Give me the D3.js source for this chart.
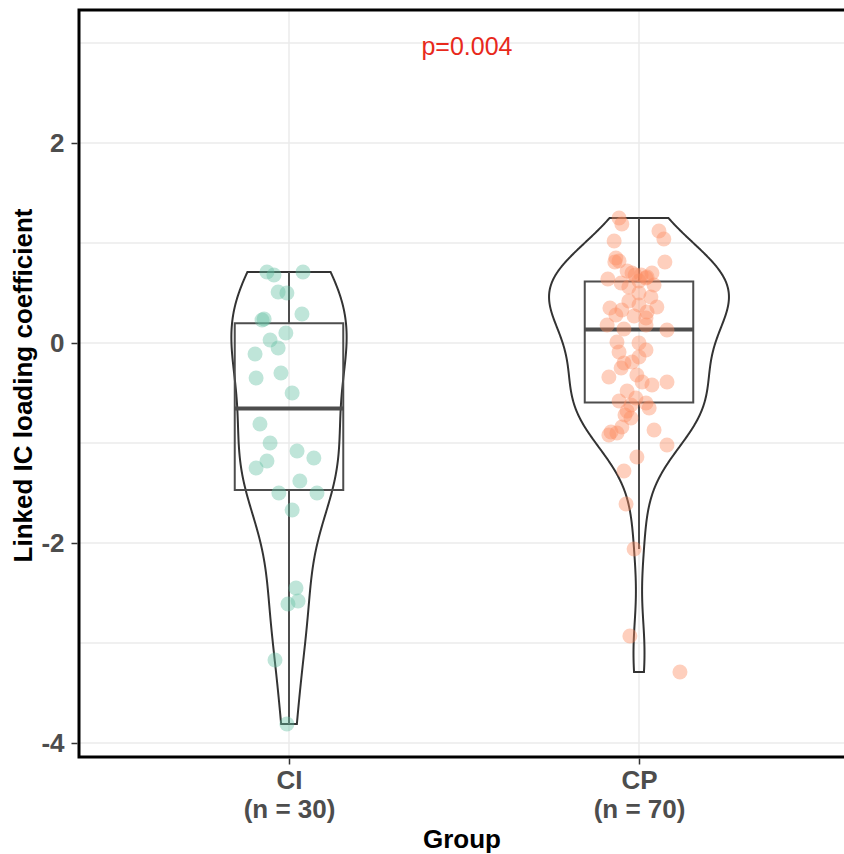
<!DOCTYPE html>
<html>
<head>
<meta charset="utf-8">
<script src="https://cdn.jsdelivr.net/npm/d3@7"></script>
<style>
  body { margin: 0; background: #fff; }
  text { font-family: 'Liberation Sans', Arial, sans-serif; }
</style>
</head>
<body>
<div id="container"></div>
<script>
const groups = ['CI', 'CP']
const groupCounts = [30, 70]
const groupColors = ['#66c2a5', '#fc8d62']

const ciValues = [0.71, 0.68, 0.71, 0.51, 0.50, 0.29, 0.24, 0.23, 0.10, 0.03,
  -0.05, -0.11, -0.30, -0.35, -0.50, -0.81, -1.00, -1.08, -1.15, -1.18,
  -1.25, -1.38, -1.50, -1.50, -1.67, -2.45, -2.58, -2.61, -3.17, -3.81]
const ciJitter = [-0.063, -0.043, 0.040, -0.031, -0.006, 0.037, -0.071, -0.077, -0.009, -0.054,
  -0.031, -0.097, -0.023, -0.094, 0.009, -0.083, -0.054, 0.023, 0.071, -0.063,
  -0.094, 0.031, -0.029, 0.080, 0.009, 0.020, 0.026, -0.003, -0.040, -0.006]

const cpValues = [1.25, 1.19, 1.12, 1.04, 1.02, 0.85, 0.81, 0.81, 0.70, 0.68,
  0.70, 0.65, 0.64, 0.60, 0.56, 0.50, 0.46, 0.36, 0.35, 0.33,
  0.31, 0.28, 0.25, 0.18, 0.14, 0.18, 0.13, 0.01, 0.00, -0.09,
  -0.07, -0.14, -0.19, -0.20, -0.25, -0.34, -0.32, -0.39, -0.42, -0.39,
  -0.55, -0.60, -0.65, -0.72, -0.75, -0.84, -0.89, -0.87, -0.92, -0.90,
  -1.02, -1.14, -1.28, -1.61, -2.06, -2.93, -3.29, 0.82, 0.72, 0.68,
  0.66, 0.62, 0.58, 0.42, 0.38, 0.27, -0.68, -0.62, -0.58, -0.48]
const cpJitter = [-0.057, -0.049, 0.057, 0.071, -0.071, -0.066, -0.069, 0.074, -0.020, 0.006,
  0.037, 0.020, -0.089, -0.051, -0.029, 0, 0.034, 0.051, -0.083, -0.049,
  0.023, -0.066, 0.020, -0.091, -0.043, 0.020, 0.080, -0.063, 0, -0.057,
  0.020, 0, -0.020, -0.043, -0.051, -0.086, -0.006, 0.009, 0.037, 0.080,
  -0.009, 0.020, 0.029, -0.040, -0.023, -0.049, -0.080, 0.043, -0.086, -0.063,
  0.080, -0.006, -0.043, -0.037, -0.014, -0.026, 0.117, -0.057, -0.034, -0.011,
  0.023, 0, 0.043, -0.029, 0, -0.014, -0.034, -0.023, -0.057, -0.034]

const yTicks = [-4, -2, 0, 2]
const yMinorTicks = [-3, -1, 1, 3]
const pLabel = 'p=0.004'
const yTitle = 'Linked IC loading coefficient'
const xTitle = 'Group'

const width = 844
const height = 854

const svg = d3.select('#container')
  .append('svg')
  .attr('width', width)
  .attr('height', height)

const x = d3.scaleLinear().domain([0.4, 2.6]).range([79, 849])
const y = d3.scaleLinear().domain([-4.14, 3.33]).range([757, 10])

const series = [
  { name: groups[0], values: ciValues, jitter: ciJitter },
  { name: groups[1], values: cpValues, jitter: cpJitter }
]

// grid
const grid = svg.append('g')
grid.selectAll('.hgrid')
  .data(yTicks.concat(yMinorTicks))
  .enter().append('line')
  .attr('x1', x(0.4)).attr('x2', x(2.6))
  .attr('y1', d => y(d)).attr('y2', d => y(d))
  .attr('stroke', '#ebebeb').attr('stroke-width', 1.5)
grid.selectAll('.vgrid')
  .data(groups)
  .enter().append('line')
  .attr('x1', (d, i) => x(i + 1)).attr('x2', (d, i) => x(i + 1))
  .attr('y1', y(3.33)).attr('y2', y(-4.14))
  .attr('stroke', '#ebebeb').attr('stroke-width', 1.5)

// violin densities (gaussian kernel, nrd0 bandwidth, trimmed)
function nrd0 (v) {
  const s = v.slice().sort(d3.ascending)
  const iqr = d3.quantile(s, 0.75) - d3.quantile(s, 0.25)
  const lo = Math.min(d3.deviation(v), iqr / 1.34)
  return 0.9 * lo * Math.pow(v.length, -0.2)
}
series.forEach(s => {
  const bw = nrd0(s.values)
  const lo = d3.min(s.values)
  const hi = d3.max(s.values)
  s.density = d3.range(512).map(k => {
    const t = lo + (hi - lo) * k / 511
    const dens = d3.mean(s.values, v => Math.exp(-0.5 * ((t - v) / bw) ** 2)) / (bw * Math.sqrt(2 * Math.PI))
    return [t, dens]
  })
  const sorted = s.values.slice().sort(d3.ascending)
  s.q1 = d3.quantile(sorted, 0.25)
  s.med = d3.quantile(sorted, 0.5)
  s.q3 = d3.quantile(sorted, 0.75)
  const iqr = s.q3 - s.q1
  s.lowW = d3.min(sorted.filter(v => v >= s.q1 - 1.5 * iqr))
  s.highW = d3.max(sorted.filter(v => v <= s.q3 + 1.5 * iqr))
})
const maxDens = d3.max(series, s => d3.max(s.density, d => d[1]))
const violinHalf = 0.257
const boxHalf = 0.155

const violinLine = d3.line().x(d => d[0]).y(d => d[1])
series.forEach((s, i) => {
  const cx = i + 1
  const left = s.density.map(d => [x(cx - d[1] / maxDens * violinHalf), y(d[0])])
  const right = s.density.slice().reverse().map(d => [x(cx + d[1] / maxDens * violinHalf), y(d[0])])
  svg.append('path')
    .attr('d', violinLine(left.concat(right)) + 'Z')
    .attr('fill', 'none')
    .attr('stroke', '#333333')
    .attr('stroke-width', 2)

  const g = svg.append('g').attr('stroke', '#4d4d4d').attr('fill', 'none')
  g.append('line')
    .attr('x1', x(cx)).attr('x2', x(cx))
    .attr('y1', y(s.highW)).attr('y2', y(s.q3))
    .attr('stroke-width', 2)
  g.append('line')
    .attr('x1', x(cx)).attr('x2', x(cx))
    .attr('y1', y(s.q1)).attr('y2', y(s.lowW))
    .attr('stroke-width', 2)
  g.append('rect')
    .attr('x', x(cx - boxHalf)).attr('width', x(cx + boxHalf) - x(cx - boxHalf))
    .attr('y', y(s.q3)).attr('height', y(s.q1) - y(s.q3))
    .attr('stroke-width', 2)
  g.append('line')
    .attr('x1', x(cx - boxHalf)).attr('x2', x(cx + boxHalf))
    .attr('y1', y(s.med)).attr('y2', y(s.med))
    .attr('stroke-width', 4)
})

// jittered points
series.forEach((s, i) => {
  svg.append('g')
    .selectAll('circle')
    .data(s.values)
    .enter().append('circle')
    .attr('cx', (d, k) => x(i + 1 + s.jitter[k]))
    .attr('cy', d => y(d))
    .attr('r', 7.5)
    .attr('fill', groupColors[i])
    .attr('fill-opacity', 0.42)
})

// panel border
svg.append('rect')
  .attr('x', x(0.4)).attr('y', y(3.33))
  .attr('width', x(2.6) - x(0.4)).attr('height', y(-4.14) - y(3.33))
  .attr('fill', 'none').attr('stroke', '#000').attr('stroke-width', 3)

// y axis
const yAxis = svg.append('g')
  .attr('transform', `translate(${x(0.4) - 1.5},0)`)
  .call(d3.axisLeft(y).tickValues(yTicks).tickSize(6).tickPadding(7).tickFormat(d3.format('d')))
yAxis.select('.domain').remove()
yAxis.selectAll('line').attr('stroke', '#333').attr('stroke-width', 1.5)
yAxis.selectAll('text')
  .attr('fill', '#4d4d4d').attr('font-size', 26).attr('font-weight', 'bold')
  .attr('font-family', "'Liberation Sans', Arial, sans-serif")
  .text(d => d < 0 ? '-' + Math.abs(d) : d)

// x axis
const xAxis = svg.append('g')
  .attr('transform', `translate(0,${y(-4.14) + 1.5})`)
  .call(d3.axisBottom(x).tickValues([1, 2]).tickSize(6).tickFormat(''))
xAxis.select('.domain').remove()
xAxis.selectAll('line').attr('stroke', '#333').attr('stroke-width', 1.5)
xAxis.selectAll('.tick').each(function (d, i) {
  const t = d3.select(this).append('text')
    .attr('fill', '#4d4d4d').attr('font-size', 26).attr('font-weight', 'bold')
    .attr('text-anchor', 'middle')
    .attr('font-family', "'Liberation Sans', Arial, sans-serif")
  t.append('tspan').attr('x', 0).attr('y', 30).text(groups[i])
  t.append('tspan').attr('x', 0).attr('y', 59).text(`(n = ${groupCounts[i]})`)
})

svg.append('text')
  .attr('x', (x(0.4) + x(2.6)) / 2 - 2).attr('y', 848)
  .attr('text-anchor', 'middle')
  .attr('font-size', 26).attr('font-weight', 'bold').attr('fill', '#000')
  .text(xTitle)

svg.append('text')
  .attr('transform', `translate(32,${(y(3.33) + y(-4.14)) / 2 + 2}) rotate(-90)`)
  .attr('text-anchor', 'middle')
  .attr('font-size', 26).attr('font-weight', 'bold').attr('fill', '#000')
  .text(yTitle)

svg.append('text')
  .attr('x', x(1.5) + 3).attr('y', y(2.88))
  .attr('text-anchor', 'middle')
  .attr('font-size', 25).attr('fill', '#e8291c')
  .text(pLabel)
</script>
</body>
</html>
